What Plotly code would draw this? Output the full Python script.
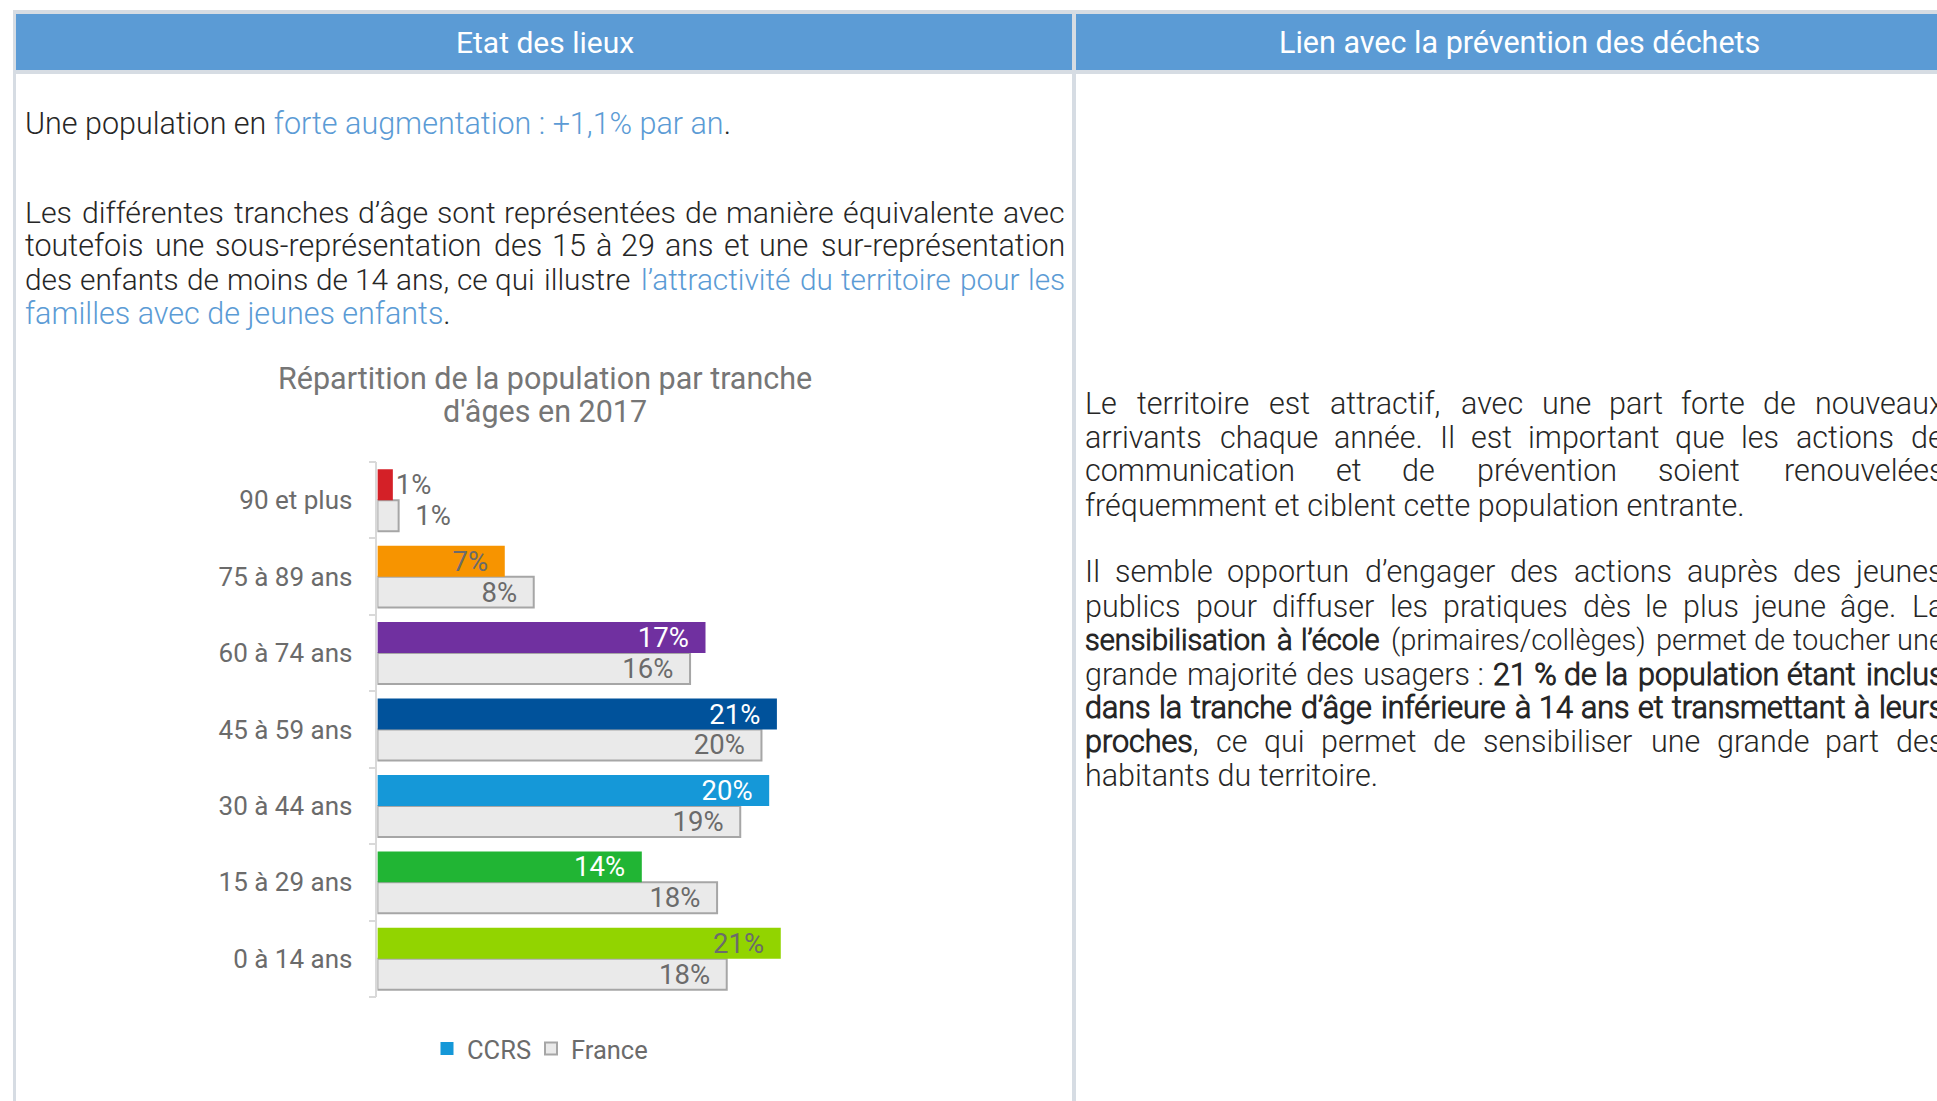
import unicodedata
import plotly.graph_objects as go

# ---------------- data ----------------
age_groups = ["0 à 14 ans", "15 à 29 ans", "30 à 44 ans", "45 à 59 ans",
              "60 à 74 ans", "75 à 89 ans", "90 et plus"]
ccrs_pct = [20.9, 13.7, 20.3, 20.7, 17.0, 6.6, 0.8]
france_pct = [18.1, 17.6, 18.8, 19.9, 16.2, 8.1, 1.1]
ccrs_colors = ["#92D400", "#21B534", "#1598D8", "#00529B", "#7030A0", "#F79400", "#D42027"]
series_names = ["CCRS", "France"]
chart_title = ["Répartition de la population par tranche", "d'âges en 2017"]
headers = ["Etat des lieux", "Lien avec la prévention des déchets"]

left_lines = [
    ("Une population en {c}forte augmentation : +1,1% par an{/c}.", False),
    ("Les différentes tranches d’âge sont représentées de manière équivalente avec", True),
    ("toutefois une sous-représentation des 15 à 29 ans et une sur-représentation", True),
    ("des enfants de moins de 14 ans, ce qui illustre {c}l’attractivité du territoire pour les{/c}", True),
    ("{c}familles avec de jeunes enfants{/c}.", False),
]
right_lines = [
    ("Le territoire est attractif, avec une part forte de nouveaux", True),
    ("arrivants chaque année. Il est important que les actions de", True),
    ("communication et de prévention soient renouvelées", True),
    ("fréquemment et ciblent cette population entrante.", False),
    ("Il semble opportun d’engager des actions auprès des jeunes", True),
    ("publics pour diffuser les pratiques dès le plus jeune âge. La", True),
    ("{b}sensibilisation à l’école{/b} (primaires/collèges) permet de toucher une", True),
    ("grande majorité des usagers\u00a0: {b}21\u00a0% de la population étant inclus{/b}", True),
    ("{b}dans la tranche d’âge inférieure à 14 ans et transmettant à leurs{/b}", True),
    ("{b}proches{/b}, ce qui permet de sensibiliser une grande part des", True),
    ("habitants du territoire.", False),
]

# ---------------- layout constants ----------------
W, H = 1937, 1101
BLUE = "#5B9BD5"
BORDER = "#D6DCE3"
TXT = "#262626"
GRAY = "#6B6B6B"
BODY_FONT = "Roboto Light, Roboto"
BODY_SIZE = 30.5


def px(x):
    return x / W


def py(y):
    return 1 - y / H


# approximate Roboto advance widths (em)
RW = dict(zip("abcdefghijklmnopqrstuvwxyz",
              [.544, .556, .523, .558, .526, .349, .557, .547, .243, .239, .5, .243, .872,
               .548, .564, .556, .557, .339, .517, .325, .546, .484, .74, .488, .473, .488]))
RW.update(zip("ABCDEFGHIJKLMNOPQRSTUVWXYZ",
              [.652, .623, .651, .656, .568, .553, .681, .697, .271, .54, .626, .536, .853,
               .697, .672, .632, .672, .614, .594, .597, .633, .637, .866, .626, .6, .599]))
RW.update({" ": .248, "\u00a0": .248, ".": .263, ",": .192, ":": .242, "’": .196, "'": .153,
           "-": .27, "(": .334, ")": .34, "/": .402, "%": .715, "+": .554})


def cw(ch):
    base = unicodedata.normalize("NFD", ch)[0]
    return RW.get(base, .5615)


def parse(line):
    out, style, i = [], "n", 0
    tags = {"{b}": "b", "{/b}": "n", "{c}": "c", "{/c}": "n"}
    while i < len(line):
        hit = False
        for t, s in tags.items():
            if line.startswith(t, i):
                style, i, hit = s, i + len(t), True
                break
        if not hit:
            out.append((line[i], style))
            i += 1
    return out


def to_html(chars):
    html, cur, buf = "", None, ""

    def flush(s, b):
        if not b:
            return ""
        if s == "b":
            return f"<b>{b}</b>"
        if s == "c":
            return f"<span style='color:{BLUE}'>{b}</span>"
        return b
    for ch, s in chars:
        if s != cur:
            html += flush(cur, buf)
            cur, buf = s, ""
        buf += ch
    html += flush(cur, buf)
    return html


annotations = []


def add_text(text, x, y, anchor="left", size=BODY_SIZE, color=TXT, family=BODY_FONT):
    annotations.append(dict(text=text, x=px(x), y=py(y), xref="paper", yref="paper",
                            xanchor=anchor, yanchor="middle", showarrow=False,
                            borderpad=0, borderwidth=0,
                            font=dict(family=family, size=size, color=color)))


def add_line(line, justify, left, right, y):
    chars = parse(line)
    if not justify:
        add_text(to_html(chars), left, y)
        return
    words, cur = [], []
    for c in chars:
        if c[0] == " ":
            if cur:
                words.append(cur)
            cur = []
        else:
            cur.append(c)
    if cur:
        words.append(cur)
    em = [sum(cw(ch) for ch, s in w) for w in words]
    n = len(words)
    avail = right - left
    size = BODY_SIZE
    need = (sum(em) + (n - 1) * 0.24) * size
    if need > avail:
        size = avail / (sum(em) + (n - 1) * 0.24)
    widths = [e * size for e in em]
    gap = (avail - sum(widths)) / (n - 1)
    x = left
    for i, (w, wd) in enumerate(zip(words, widths)):
        if i == 0:
            add_text(to_html(w), left, y, "left", size=size)
        elif i == n - 1:
            add_text(to_html(w), right, y, "right", size=size)
        else:
            add_text(to_html(w), x + wd / 2, y, "center", size=size)
        x += wd + gap


left_y = [123.5, 212.5, 245.8, 279.2, 313.8]
right_y = [403.9, 437.3, 470.7, 505.2, 571.9, 606.5, 639.9, 674.5, 707.8, 741.2, 775.8]
for (ln, j), y in zip(left_lines, left_y):
    add_line(ln, j, 25, 1065, y)
for (ln, j), y in zip(right_lines, right_y):
    add_line(ln, j, 1085, 1944, y)

# headers
add_text(headers[0], 545, 42, "center", size=30, color="white", family="Roboto")
add_text(headers[1], 1519, 42, "center", size=30.5, color="white", family="Roboto")

# chart title
add_text(chart_title[0], 545, 378.5, "center", size=30.5, color="#767676", family="Roboto")
add_text(chart_title[1], 545, 411, "center", size=30.5, color="#767676", family="Roboto")


# ---------------- table shapes ----------------
def rect(x0, x1, y0, y1, color):
    return dict(type="rect", xref="paper", yref="paper", x0=px(x0), x1=px(x1),
                y0=py(y1), y1=py(y0), fillcolor=color, line=dict(width=0), layer="below")


shapes = [
    rect(13, 1970, 10, 1120, BORDER),
    rect(16, 1072, 14, 70, BLUE),
    rect(1076, 1970, 14, 70, BLUE),
    rect(16, 1072, 74, 1120, "white"),
    rect(1076, 1970, 74, 1120, "white"),
]

# ---------------- chart ----------------
NB = "\u00a0"
last = len(age_groups) - 1
ccrs_text = [f"{v:.0f}%" + ("" if i == last else NB * 2) for i, v in enumerate(ccrs_pct)]
france_text = [(NB * 2 + f"{v:.0f}%") if i == last else (f"{v:.0f}%" + NB * 2)
               for i, v in enumerate(france_pct)]
pos = ["inside"] * last + ["outside"]
dark = {"#21B534", "#1598D8", "#00529B", "#7030A0"}
ccrs_txtcol = ["white" if c in dark else GRAY for c in ccrs_colors]

fig = go.Figure()
fig.add_trace(go.Bar(
    name=series_names[1], y=age_groups, x=france_pct, orientation="h",
    marker=dict(color="#EAEAEA", line=dict(color="#A6A6A6", width=2)),
    text=france_text, textposition=pos, insidetextanchor="end", constraintext="none",
    textfont=dict(family="Roboto", size=27.5, color=GRAY), legendrank=2, legendwidth=90,
    hoverinfo="skip"))
fig.add_trace(go.Bar(
    name=series_names[0], y=age_groups, x=ccrs_pct, orientation="h",
    marker=dict(color=ccrs_colors, line=dict(width=0)),
    text=ccrs_text, textposition=pos, insidetextanchor="end", constraintext="none",
    textfont=dict(family="Roboto", size=27.5, color=ccrs_txtcol), showlegend=False,
    hoverinfo="skip"))
fig.add_trace(go.Scatter(
    name=series_names[0], x=[None], y=[None], mode="markers",
    marker=dict(symbol="square", size=13, color="#1598D8"), legendrank=1, legendwidth=59,
    hoverinfo="skip"))

X0, PPU, XMAX = 377.4, 19.3, 30
fig.update_layout(
    width=W, height=H, margin=dict(l=0, r=0, t=0, b=0),
    paper_bgcolor="white", plot_bgcolor="rgba(0,0,0,0)",
    barmode="group", bargap=0.19, bargroupgap=0,
    shapes=shapes, annotations=annotations,
    font=dict(family="Roboto", color=GRAY),
    xaxis=dict(domain=[px(X0), px(X0 + XMAX * PPU)], range=[0, XMAX], visible=False,
               showgrid=False, zeroline=False),
    yaxis=dict(domain=[py(997), py(462)], type="category", categoryorder="array",
               categoryarray=age_groups, showgrid=False, zeroline=False,
               showline=True, linecolor="#D9D9D9", linewidth=1.5,
               ticks="outside", tickson="boundaries", ticklen=7, tickcolor="#D9D9D9",
               tickwidth=1.5, ticklabelstandoff=18,
               tickfont=dict(family="Roboto", size=26, color=GRAY)),
    legend=dict(orientation="h", x=px(427), y=py(1049), xanchor="left", yanchor="middle",
                font=dict(family="Roboto", size=25.5, color=GRAY), bgcolor="rgba(0,0,0,0)"),
    showlegend=True,
)

fig.write_html("out.html", config={"displayModeBar": False},
               post_script="document.body.style.margin='0';"
                           "document.documentElement.style.overflow='hidden';"
                           "document.body.style.overflow='hidden';")
